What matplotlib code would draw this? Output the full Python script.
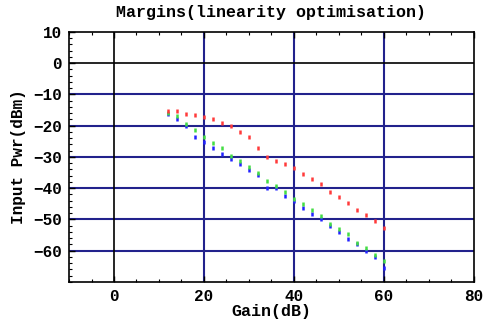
import matplotlib
matplotlib.use("Agg")
import matplotlib.pyplot as plt
import numpy as np

gain = [12, 14, 16, 18, 20, 22, 24, 26, 28, 30, 32, 34, 36, 38, 40,
        42, 44, 46, 48, 50, 52, 54, 56, 58, 60]
red_pwr = [-15.4, -15.4, -16.2, -16.7, -17.3, -17.9, -19.2, -20.1, -22.0, -23.6,
           -27.1, -30.0, -31.3, -32.4, -33.5, -35.3, -37.0, -38.8, -41.1, -42.9,
           -44.6, -46.9, -48.7, -50.5, -52.8]
green_pwr = [-16.0, -17.0, -19.5, -21.5, -23.5, -25.5, -27.0, -29.6, -31.4, -33.2,
             -35.0, -37.7, -39.3, -41.2, -43.3, -45.2, -47.1, -49.0, -51.3, -53.2,
             -54.8, -57.4, -59.0, -61.4, -63.3]
blue_pwr = [-16.4, -18.0, -20.2, -23.6, -25.2, -27.1, -28.9, -30.6, -32.4, -34.3,
            -35.8, -39.8, -39.8, -42.5, -44.2, -46.3, -48.1, -49.9, -52.2, -54.0,
            -56.3, -57.9, -60.2, -62.0, -65.5]

xticks = [0, 20, 40, 60, 80]
yticks = [10, 0, -10, -20, -30, -40, -50, -60]

mono = "Liberation Mono"
fig = plt.figure(figsize=(4.84, 3.23), dpi=100)
ax = fig.add_axes([0.1426, 0.127, 0.979 - 0.1426, 0.901 - 0.127])
ax.set_xlim(-10, 80)
ax.set_ylim(-70, 10)

navy = "#22228c"
for gx in [20, 40, 60]:
    ax.axvline(gx, color=navy, lw=1.5, zorder=1)
for gy in [-10, -20, -30, -40, -50, -60]:
    ax.axhline(gy, color=navy, lw=1.5, zorder=1)
ax.axvline(0, color="black", lw=1.2, zorder=1)
ax.axhline(0, color="black", lw=1.2, zorder=1)

ax.plot(gain, blue_pwr, ls="none", marker="|", ms=3.2, mew=1.8, color="#2222ff", zorder=3)
ax.plot(gain, green_pwr, ls="none", marker="|", ms=3.0, mew=1.8, color="#44dd44", zorder=4)
ax.plot(gain, red_pwr, ls="none", marker="|", ms=3.2, mew=1.8, color="#ff3a3a", zorder=5)

ax.set_xticks(xticks)
ax.set_yticks(yticks)
ax.set_xticks(np.arange(-10, 81, 5), minor=True)
ax.set_yticks(np.arange(-70, 11, 2), minor=True)
ax.tick_params(which="both", direction="in", top=True, right=False, left=True)
ax.tick_params(which="major", length=4, width=1, labelsize=11.5, pad=5)
ax.tick_params(which="minor", length=2, width=0.8)
for lab in ax.get_xticklabels() + ax.get_yticklabels():
    lab.set_family(mono)
    lab.set_fontweight("bold")
for s in ax.spines.values():
    s.set_color("black")
    s.set_linewidth(1.2)

ax.set_title("Margins(linearity optimisation)", family=mono, fontsize=12,
             fontweight="bold", pad=11)
ax.set_xlabel("Gain(dB)", family=mono, fontsize=12, fontweight="bold", labelpad=0)
ax.set_ylabel("Input Pwr(dBm)", family=mono, fontsize=11.5, fontweight="bold", labelpad=5)

fig.savefig("out.png", dpi=100)
